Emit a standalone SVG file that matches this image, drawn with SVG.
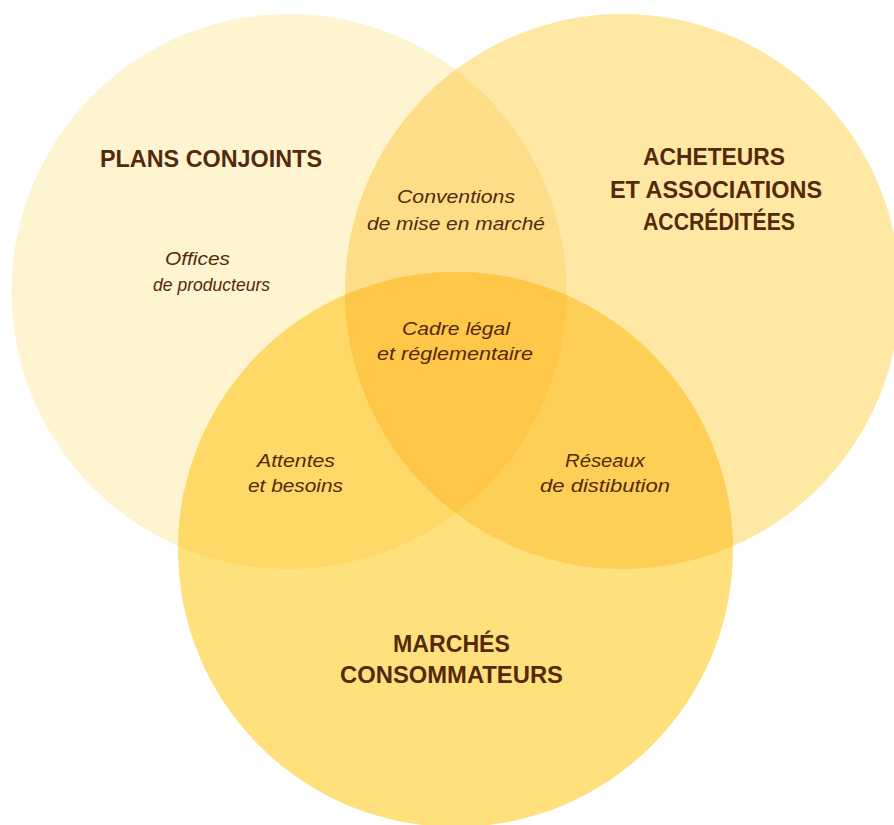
<svg xmlns="http://www.w3.org/2000/svg" width="894" height="825" viewBox="0 0 894 825">
<style>
.t{font-family:"Liberation Sans",Arial,sans-serif;font-weight:bold;font-size:24px;fill:#55290b;text-anchor:middle}
.i{font-family:"Liberation Sans",Arial,sans-serif;font-style:italic;font-size:19px;fill:#55290b;text-anchor:middle}
</style>
<defs>
<clipPath id="cL"><circle cx="289" cy="291.5" r="277.5"/></clipPath>
<clipPath id="cR"><circle cx="622.5" cy="291.5" r="277.5"/></clipPath>
<clipPath id="cB"><circle cx="455.5" cy="549.5" r="277.5"/></clipPath>
</defs>
<rect width="894" height="825" fill="#ffffff"/>
<g id="plans-conjoints">
<circle cx="289" cy="291.5" r="277.5" fill="#fef4d0"/>
</g>
<g id="acheteurs">
<circle cx="622.5" cy="291.5" r="277.5" fill="#fee8a4"/>
</g>
<g id="marches">
<circle cx="455.5" cy="549.5" r="277.5" fill="#fee07c"/>
</g>
<g id="overlaps">
<g clip-path="url(#cL)"><circle cx="622.5" cy="291.5" r="277.5" fill="#fedd88"/></g>
<g clip-path="url(#cL)"><circle cx="455.5" cy="549.5" r="277.5" fill="#fed968"/></g>
<g clip-path="url(#cR)"><circle cx="455.5" cy="549.5" r="277.5" fill="#fecf56"/></g>
<g clip-path="url(#cL)"><g clip-path="url(#cR)"><circle cx="455.5" cy="549.5" r="277.5" fill="#fec748"/></g></g>
</g>
<g id="labels">
<text class="t" x="211" y="167" textLength="222" lengthAdjust="spacingAndGlyphs">PLANS CONJOINTS</text>
<text class="t" x="714" y="165" textLength="142" lengthAdjust="spacingAndGlyphs">ACHETEURS</text>
<text class="t" x="716" y="198" textLength="212" lengthAdjust="spacingAndGlyphs">ET ASSOCIATIONS</text>
<text class="t" x="719" y="230" textLength="152" lengthAdjust="spacingAndGlyphs">ACCRÉDITÉES</text>
<text class="t" x="451.5" y="652" textLength="117" lengthAdjust="spacingAndGlyphs">MARCHÉS</text>
<text class="t" x="451.5" y="683" textLength="223" lengthAdjust="spacingAndGlyphs">CONSOMMATEURS</text>
<text class="i" x="456" y="203" textLength="118" lengthAdjust="spacingAndGlyphs">Conventions</text>
<text class="i" x="456" y="230" textLength="178" lengthAdjust="spacingAndGlyphs">de mise en marché</text>
<text class="i" x="197.5" y="265" textLength="65" lengthAdjust="spacingAndGlyphs">Offices</text>
<text class="i" x="211.5" y="291" textLength="117" lengthAdjust="spacingAndGlyphs">de producteurs</text>
<text class="i" x="456" y="335" textLength="108" lengthAdjust="spacingAndGlyphs">Cadre légal</text>
<text class="i" x="455" y="360" textLength="156" lengthAdjust="spacingAndGlyphs">et réglementaire</text>
<text class="i" x="296" y="467" textLength="78" lengthAdjust="spacingAndGlyphs">Attentes</text>
<text class="i" x="295.5" y="492" textLength="95" lengthAdjust="spacingAndGlyphs">et besoins</text>
<text class="i" x="605" y="467" textLength="80" lengthAdjust="spacingAndGlyphs">Réseaux</text>
<text class="i" x="605" y="492" textLength="130" lengthAdjust="spacingAndGlyphs">de distibution</text>
</g>
</svg>
